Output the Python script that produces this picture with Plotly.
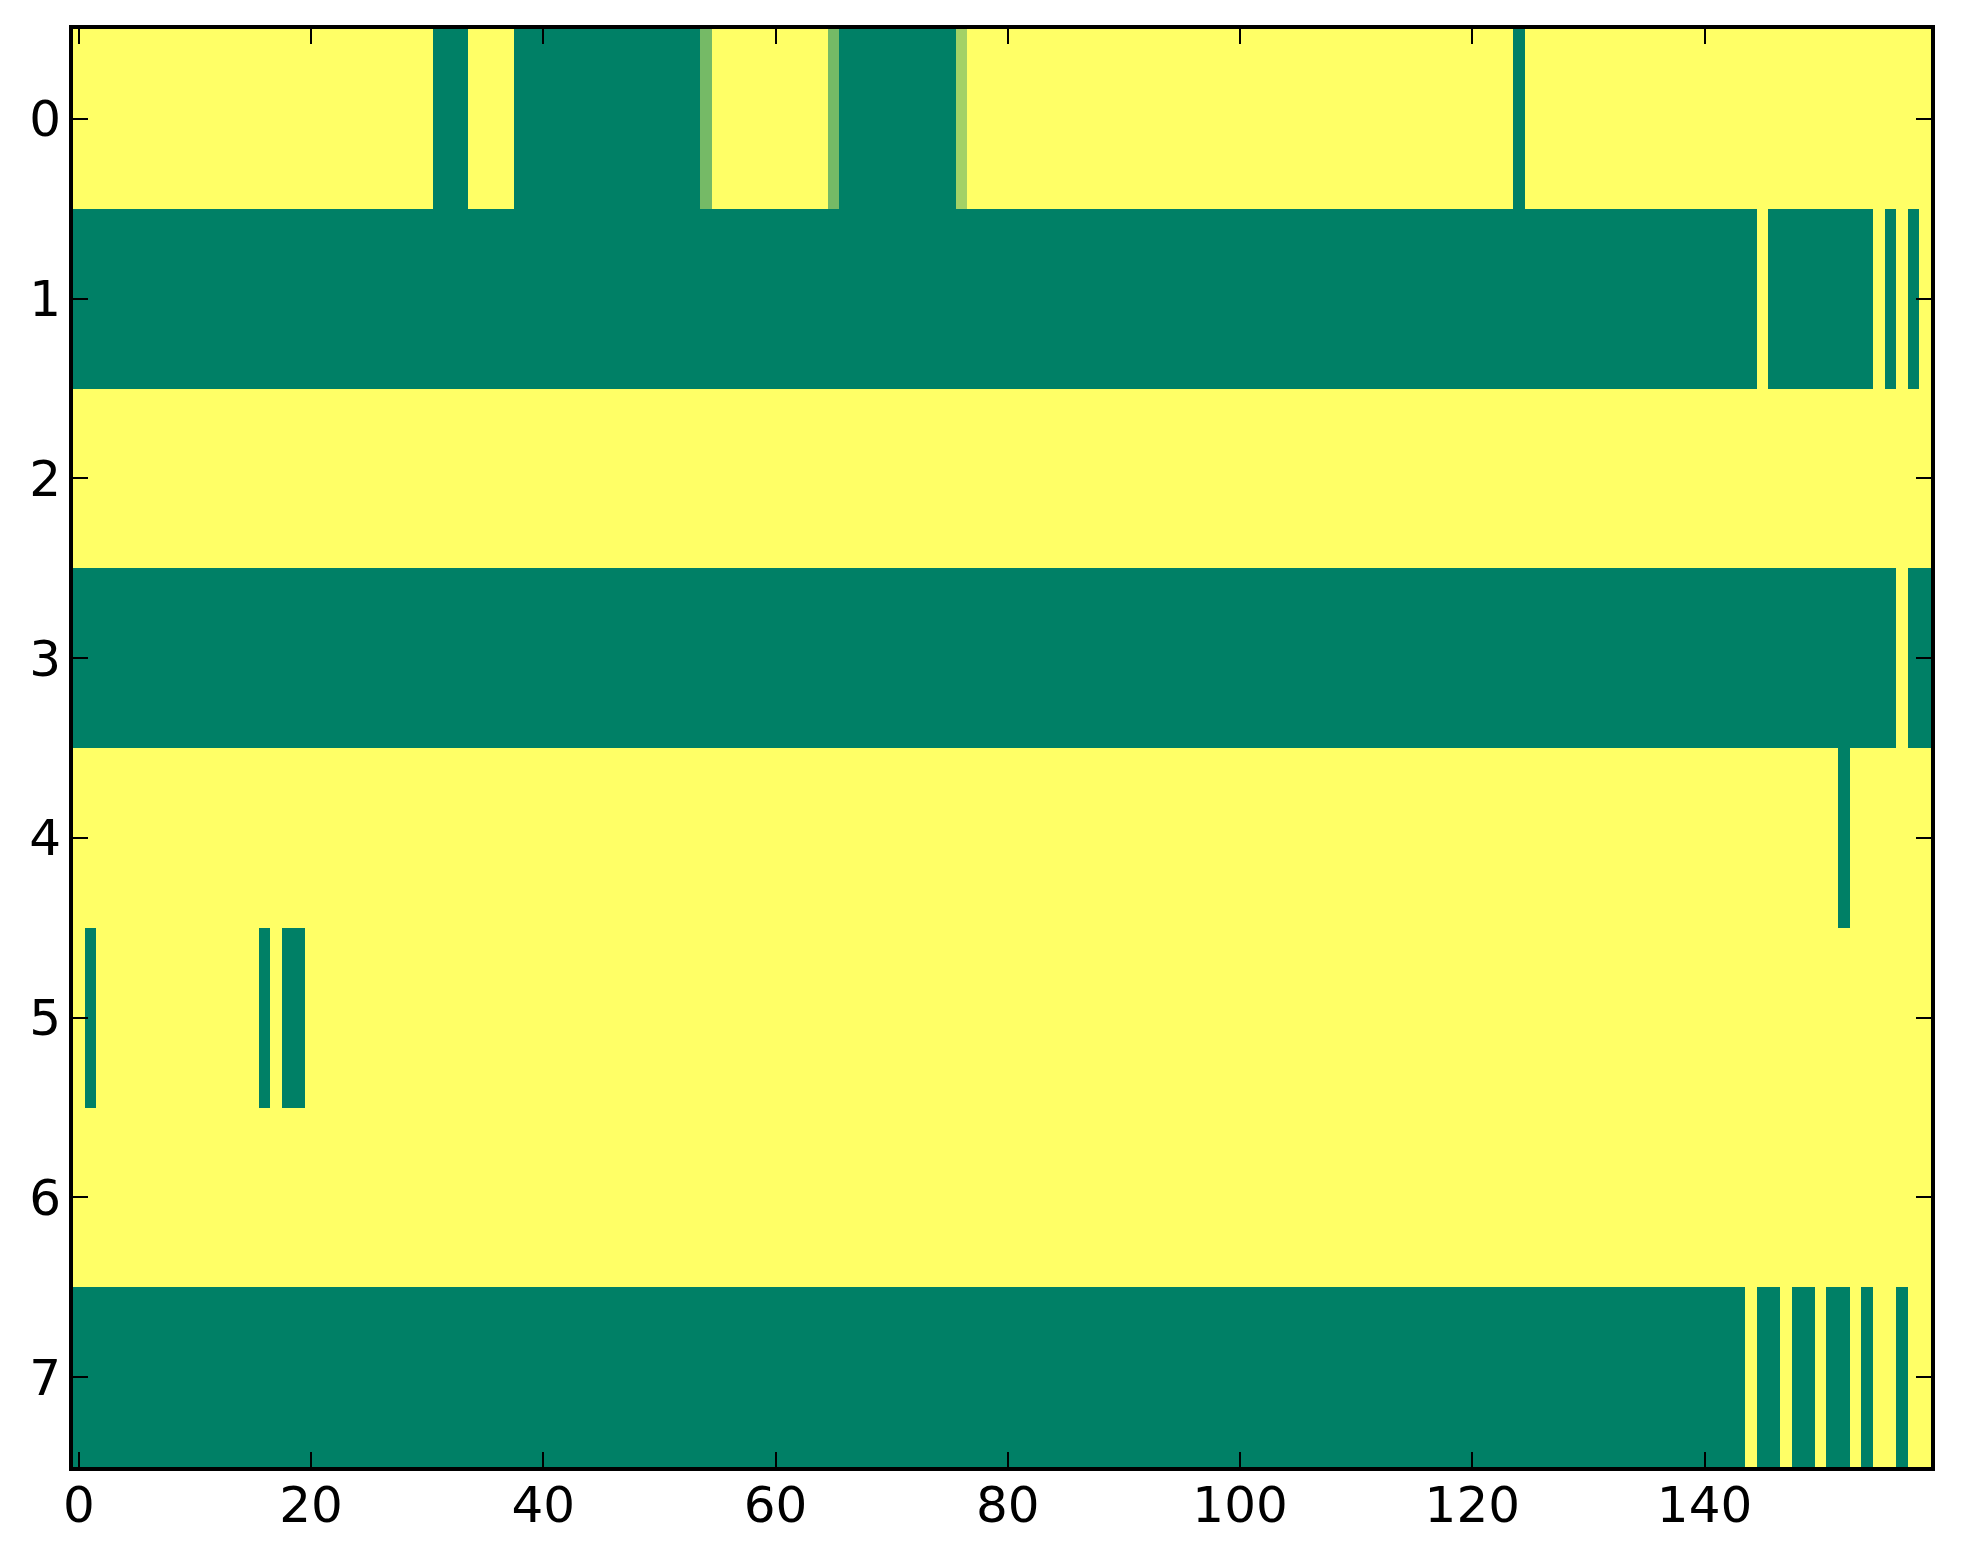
import plotly.graph_objects as go

# grid size
n_rows = 8
n_cols = 160

# cells default to 1 (yellow); runs list the other cells: (first col, last col, value)
row0_runs = [(31, 33, 0), (38, 53, 0), (54, 54, 0.46), (65, 65, 0.46),
             (66, 75, 0), (76, 76, 0.64), (124, 124, 0)]
row1_runs = [(0, 144, 0), (146, 154, 0), (156, 156, 0), (158, 158, 0)]
row2_runs = []
row3_runs = [(0, 156, 0), (158, 159, 0)]
row4_runs = [(152, 152, 0)]
row5_runs = [(1, 1, 0), (16, 16, 0), (18, 19, 0)]
row6_runs = []
row7_runs = [(0, 143, 0), (145, 146, 0), (148, 149, 0), (151, 152, 0),
             (154, 154, 0), (157, 157, 0)]

x_ticks = [0, 20, 40, 60, 80, 100, 120, 140]
y_ticks = [0, 1, 2, 3, 4, 5, 6, 7]

all_runs = [row0_runs, row1_runs, row2_runs, row3_runs,
            row4_runs, row5_runs, row6_runs, row7_runs]
z = []
for runs in all_runs:
    row = [1.0] * n_cols
    for a, b, v in runs:
        for c in range(a, b + 1):
            row[c] = v
    z.append(row)

# matplotlib "summer" colormap
summer = [[0, "#008066"], [1, "#ffff66"]]

fig = go.Figure(go.Heatmap(
    z=z,
    x=list(range(n_cols)),
    y=list(range(n_rows)),
    colorscale=summer,
    zmin=0, zmax=1,
    showscale=False,
))

axis_style = dict(
    showline=True, linecolor="black", linewidth=4, mirror="ticks",
    ticks="inside", ticklen=15, tickwidth=2, tickcolor="black",
    showgrid=False, zeroline=False, automargin=False,
    tickfont=dict(family="DejaVu Sans", size=50, color="black"),
)

fig.update_xaxes(range=[-0.5, n_cols - 0.5], tickvals=x_ticks,
                 ticklabelstandoff=-9, **axis_style)
fig.update_yaxes(range=[n_rows - 0.5, -0.5], tickvals=y_ticks,
                 ticklabelstandoff=-2, **axis_style)

# page body has an 8px margin, so the figure is a bit smaller than the window
fig.update_layout(
    width=1947, height=1548,
    margin=dict(l=65, r=24, t=21, b=89),
    plot_bgcolor="white", paper_bgcolor="white",
)

fig.write_html("out.html")
